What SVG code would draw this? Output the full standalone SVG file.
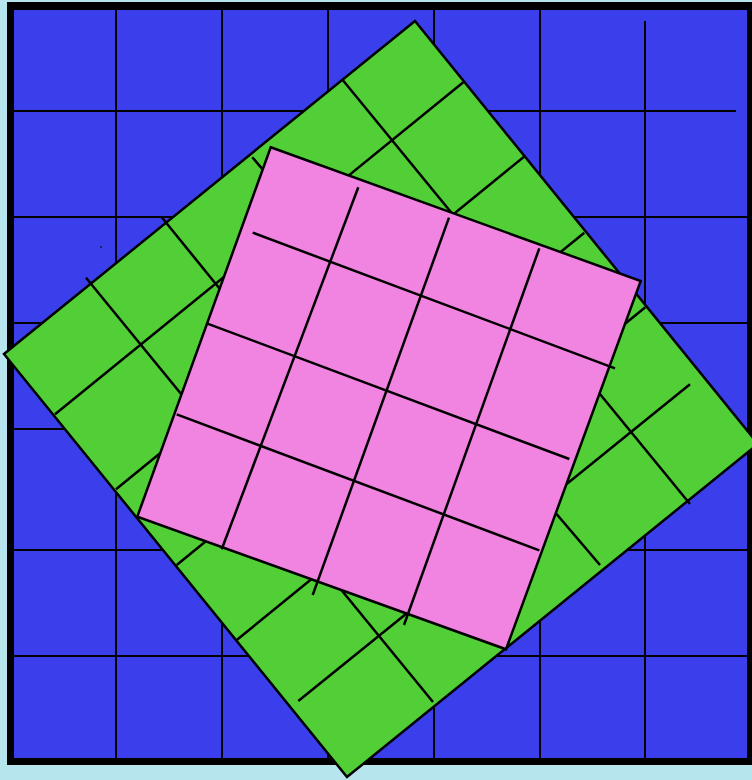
<svg xmlns="http://www.w3.org/2000/svg" width="752" height="780" viewBox="0 0 752 780">
  <style>
    .bg { fill: #b6e5ed; }
    .frame { fill: #000000; }
    .blue { fill: #3a3feb; }
    .grid { stroke: #000000; stroke-width: 2; fill: none; }
    .ln { stroke: #000000; stroke-width: 2.5; fill: none; stroke-linecap: butt; }
    .green { fill: #52cf36; stroke: #000000; stroke-width: 2.5; stroke-linejoin: miter; }
    .pink { fill: #f184e0; stroke: #000000; stroke-width: 2.5; stroke-linejoin: miter; }
  </style>
  <rect class="bg" x="0" y="0" width="752" height="780"/>

  <g id="blue-square">
    <rect class="frame" x="7" y="2" width="750" height="763"/>
    <rect class="blue" x="14" y="10" width="733" height="748"/>
    <g id="blue-grid" class="grid">
      <line x1="116" y1="10" x2="116" y2="758"/>
      <line x1="222" y1="10" x2="222" y2="758"/>
      <line x1="328" y1="10" x2="328" y2="758"/>
      <line x1="434" y1="10" x2="434" y2="758"/>
      <line x1="540" y1="10" x2="540" y2="758"/>
      <line x1="645" y1="21" x2="645" y2="758"/>
      <line x1="14" y1="111" x2="736" y2="111"/>
      <line x1="14" y1="217" x2="747" y2="217"/>
      <line x1="14" y1="323" x2="747" y2="323"/>
      <line x1="14" y1="429" x2="747" y2="429"/>
      <line x1="14" y1="550" x2="747" y2="550"/>
      <line x1="14" y1="656" x2="747" y2="656"/>
    </g>
    <rect x="100.5" y="246" width="1" height="2" fill="#000000"/>
  </g>

  <g id="green-square">
    <polygon class="green" points="415,21 758,444 347,777 4,354"/>
    <g id="green-grid" class="ln">
      <line x1="342.7" y1="80" x2="690" y2="504"/>
      <line x1="252.3" y1="157.3" x2="600" y2="565"/>
      <line x1="161.7" y1="217.3" x2="509" y2="645"/>
      <line x1="86" y1="277.7" x2="433" y2="702"/>
      <line x1="463.3" y1="82.3" x2="55" y2="414.3"/>
      <line x1="524" y1="156.7" x2="116" y2="489.3"/>
      <line x1="584.3" y1="232.7" x2="176.7" y2="565"/>
      <line x1="645.3" y1="307.3" x2="236.7" y2="640"/>
      <line x1="690" y1="384.3" x2="298.3" y2="701"/>
    </g>
  </g>

  <g id="pink-square">
    <polygon class="pink" points="270.7,147.3 640.7,281 506,649.3 137.3,516.7"/>
    <g id="pink-grid" class="ln">
      <line x1="252.7" y1="232.7" x2="615" y2="368.3"/>
      <line x1="206.7" y1="323.3" x2="569.3" y2="459"/>
      <line x1="176.7" y1="414.3" x2="539.3" y2="550.3"/>
      <line x1="358.3" y1="187.3" x2="221.7" y2="549.3"/>
      <line x1="449" y1="217.7" x2="312.7" y2="595"/>
      <line x1="539.3" y1="248.3" x2="404" y2="625"/>
    </g>
  </g>
</svg>
